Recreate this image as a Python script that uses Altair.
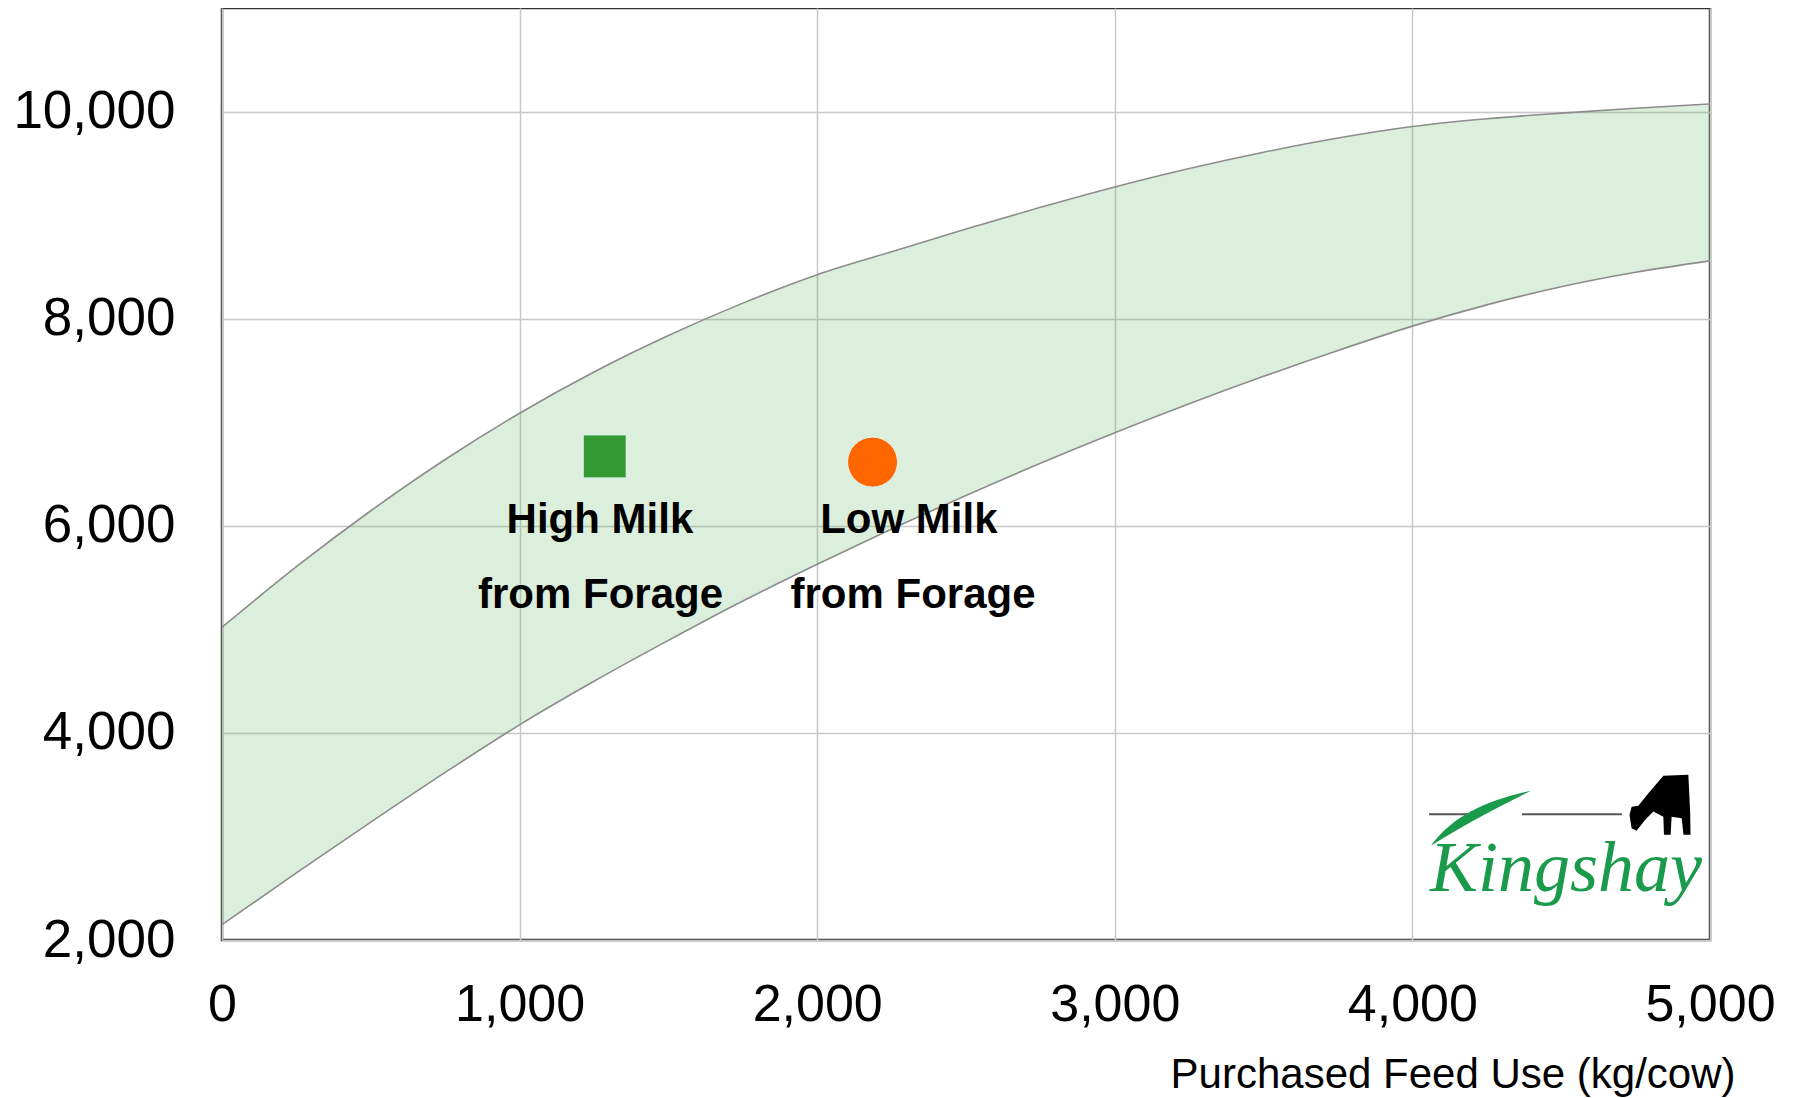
import altair as alt
import pandas as pd

# ---- data ----
feed_grid = [0, 250, 500, 750, 1000, 1250, 1500, 1750, 2000, 2250, 2500,
             2750, 3000, 3250, 3500, 3750, 4000, 4250, 4500, 4750, 5000]
band_upper = [5020, 5605, 6145, 6640, 7087, 7485, 7837, 8150, 8425, 8647, 8865,
              9075, 9272, 9450, 9607, 9744, 9855, 9930, 9985, 10032, 10074]
band_lower = [2148, 2648, 3138, 3618, 4078, 4498, 4893, 5273, 5628, 5968, 6293,
              6603, 6898, 7178, 7443, 7693, 7928, 8133, 8308, 8448, 8558]

farm_names = ["High Milk from Forage", "Low Milk from Forage"]
farm_feed = [1286, 2186]
farm_milk = [6670, 6615]

label_text = ["High Milk", "from Forage", "Low Milk", "from Forage"]
label_feed = [1270, 1272, 2308, 2322]
label_milk = [5934, 5202, 5934, 5202]

x_ticks = [0, 1000, 2000, 3000, 4000, 5000]
y_ticks = [2000, 4000, 6000, 8000, 10000]
x_title = "Purchased Feed Use (kg/cow)"

# logo (Kingshay) placed in data space
logo_text = ["Kingshay"]
logo_text_feed = [4059]
logo_text_milk = [2473]
logo_rule_x1 = [4056, 4368]
logo_rule_x2 = [4227, 4704]
logo_rule_y = [3215, 3215]
logo_leaf_feed = [4230]
logo_leaf_milk = [3200]
logo_cow_feed = [4832]
logo_cow_milk = [3311]

# ---- tables ----
band_df = pd.DataFrame({"feed": feed_grid, "upper": band_upper, "lower": band_lower})
farm_df = pd.DataFrame({"name": farm_names, "feed": farm_feed, "milk": farm_milk})
label_df = pd.DataFrame({"text": label_text, "feed": label_feed, "milk": label_milk})
logo_df = pd.DataFrame({"text": logo_text, "feed": logo_text_feed, "milk": logo_text_milk})
rule_df = pd.DataFrame({"feed": logo_rule_x1, "x2": logo_rule_x2, "milk": logo_rule_y})
leaf_df = pd.DataFrame({"feed": logo_leaf_feed, "milk": logo_leaf_milk})
cow_df = pd.DataFrame({"feed": logo_cow_feed, "milk": logo_cow_milk})

FONT = "Liberation Sans"
xs = alt.Scale(domain=[0, 5000], nice=False, zero=False)
ys = alt.Scale(domain=[2000, 11000], nice=False, zero=False)

x_axis = alt.Axis(values=x_ticks, format=",.0f", title=x_title,
                  labelFont=FONT, labelFontSize=52, labelColor="#000000",
                  labelPadding=39, ticks=False, domain=False,
                  grid=True, gridColor="#c8c8c8", gridWidth=1.5,
                  labelFlush=False, labelOverlap=False,
                  titleFont=FONT, titleFontSize=42, titleFontWeight="normal",
                  titleColor="#000000", titleX=1513, titleY=147,
                  titleAlign="right", titleBaseline="alphabetic")
y_axis = alt.Axis(values=y_ticks, format=",.0f", title="",
                  labelFont=FONT, labelFontSize=53, labelColor="#000000",
                  labelPadding=47, ticks=False, domain=False,
                  grid=True, gridColor="#c8c8c8", gridWidth=1.5,
                  labelFlush=False, labelOverlap=False)

X = alt.X("feed:Q", scale=xs, axis=x_axis, title=x_title)
Y_MILK = alt.Y("milk:Q", scale=ys, axis=y_axis, title="")

band = alt.Chart(band_df).mark_area(
    color="#4caf50", opacity=0.2, interpolate="monotone"
).encode(
    x=X,
    y=alt.Y("upper:Q", scale=ys, axis=y_axis, title=""),
    y2="lower:Q",
)

upper_line = alt.Chart(band_df).mark_line(
    color="#8c8c8c", strokeWidth=1.6, interpolate="monotone"
).encode(
    x=X,
    y=alt.Y("upper:Q", scale=ys, axis=y_axis, title=""),
)
lower_line = alt.Chart(band_df).mark_line(
    color="#8c8c8c", strokeWidth=1.6, interpolate="monotone"
).encode(
    x=X,
    y=alt.Y("lower:Q", scale=ys, axis=y_axis, title=""),
)

square = alt.Chart(farm_df.iloc[[0]]).mark_point(
    shape="square", filled=True, size=1849, color="#339933",
    stroke="#dff6f2", strokeWidth=1, opacity=1
).encode(x=X, y=Y_MILK)

circle = alt.Chart(farm_df.iloc[[1]]).mark_point(
    shape="circle", filled=True, size=2500, color="#ff6600",
    stroke="#dff6f2", strokeWidth=1, opacity=1
).encode(x=X, y=Y_MILK)

labels = alt.Chart(label_df).mark_text(
    font=FONT, fontSize=42, fontWeight="bold", color="#000000",
    align="center", baseline="alphabetic"
).encode(x=X, y=Y_MILK, text="text:N")

logo_rules = alt.Chart(rule_df).mark_rule(color="#555555", strokeWidth=2).encode(
    x=X, x2="x2:Q", y=Y_MILK,
)

leaf_path = ("M -1 0.6 C -0.55 0.0 0.1 -0.3 1 -0.5 "
             "C 0.2 -0.1 -0.45 0.25 -1 0.6 Z")
logo_leaf = alt.Chart(leaf_df).mark_point(
    shape=leaf_path, filled=True, size=10000, color="#1a9b4b", opacity=1
).encode(x=X, y=Y_MILK)

cow_path = ("M 0.93 -0.97 L 0.99 0.30 L 1.0 1.0 L 0.77 1.0 L 0.71 0.46 "
            "L 0.38 0.41 L 0.35 1.0 L 0.13 1.0 L 0.11 0.41 L -0.22 0.24 "
            "L -0.49 0.52 L -0.77 0.87 L -0.93 0.79 L -1.0 0.35 L -0.93 0.08 "
            "L -0.71 0.05 L -0.38 -0.36 L 0.11 -0.93 Z")
logo_cow = alt.Chart(cow_df).mark_point(
    shape=cow_path, filled=True, size=3721, color="#000000", opacity=1
).encode(x=X, y=Y_MILK)

logo_word = alt.Chart(logo_df).mark_text(
    font="Liberation Serif", fontStyle="italic", fontSize=72,
    color="#1a9b4b", align="left", baseline="alphabetic"
).encode(x=X, y=Y_MILK, text="text:N")

chart = alt.layer(
    band, upper_line, lower_line, square, circle, labels,
    logo_rules, logo_leaf, logo_cow, logo_word
).properties(
    width=1488, height=932,
    autosize=alt.AutoSizeParams(type="none"),
    padding={"left": 214, "top": 0, "right": 75, "bottom": 158},
    background="white",
).configure_view(stroke="#333333", strokeWidth=2.5)

chart.save("out.html", embed_options={"renderer": "svg", "actions": False})
